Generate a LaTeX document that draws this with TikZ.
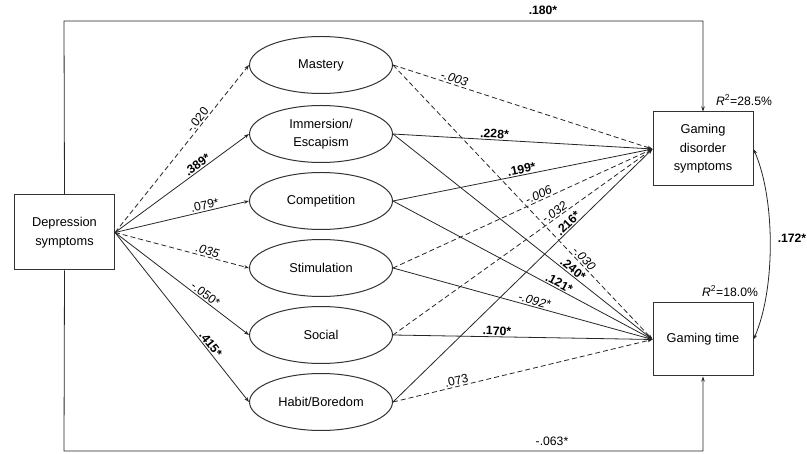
\documentclass[tikz,border=0pt]{standalone}
\usepackage{fontspec}
\setmainfont{Liberation Sans}
\usetikzlibrary{shapes.geometric,arrows.meta}
\begin{document}
\begin{tikzpicture}[x=1pt,y=-1pt,
  font=\fontsize{12.8}{18.5}\selectfont,
  box/.style={draw=black!80,line width=1pt,fill=white,minimum width=100pt,minimum height=74pt,align=center,inner sep=0pt},
  ell/.style={draw=black!80,line width=1pt,ellipse,minimum width=143pt,minimum height=57pt,align=center,inner sep=0pt},
  arr/.style={draw=black!85,line width=0.8pt,-{Stealth[length=5pt,width=3.5pt]}},
  dsh/.style={arr,dash pattern=on 5pt off 3pt},
  lab/.style={sloped,above,inner sep=1.2pt,font=\fontsize{12.2}{14}\selectfont},
  plain/.style={inner sep=0pt,font=\fontsize{12.2}{14}\selectfont},
]
\useasboundingbox (0,0) rectangle (807,454);

% boxes
\node[box,minimum height=75pt] (dep) at (64.5,232.5) {Depression\\symptoms};
\node[box] (gd) at (703,149) {Gaming\\disorder\\symptoms};
\node[box,minimum height=73pt] (gt) at (703,339.5) {Gaming time};

% ellipses
\node[ell] (m)  at (321,65)  {Mastery};
\node[ell] (ie) at (321,134) {Immersion/\\Escapism};
\node[ell] (co) at (321,201) {Competition};
\node[ell] (st) at (321,268) {Stimulation};
\node[ell] (so) at (321,335) {Social};
\node[ell] (hb) at (321,402) {Habit/Boredom};

% corners of the outer paths
\coordinate (tc) at (64,21);
\coordinate (bc) at (64,451);

% depression -> motives
\draw[dsh] (dep.east) -- node[lab,pos=.65]{-.020} (m.west);
\draw[arr] (dep.east) -- node[lab,pos=.64]{\textbf{.389*}} (ie.west);
\draw[arr] (dep.east) -- node[lab,pos=.68]{.079*} (co.west);
\draw[dsh] (dep.east) -- node[lab,pos=.68]{\textit{.035}} (st.west);
\draw[arr] (dep.east) -- node[lab,pos=.65]{-.050*} (so.west);
\draw[arr] (dep.east) -- node[lab,pos=.68]{\textbf{.415*}} (hb.west);

% motives -> gaming disorder symptoms
\draw[dsh] (m.east)  -- node[lab,pos=.23]{\textit{-.003}} (gd.west);
\draw[arr] (ie.east) -- node[lab,pos=.39]{\textbf{.228*}} (gd.west);
\draw[arr] (co.east) -- node[lab,pos=.50]{\textbf{.199*}} (gd.west);
\draw[dsh] (st.east) -- node[lab,pos=.57]{\textit{-.006}} (gd.west);
\draw[dsh] (so.east) -- node[lab,pos=.635]{\textit{-.032}} (gd.west);
\draw[arr] (hb.east) -- node[lab,pos=.69]{\textbf{.216*}} (gd.west);

% motives -> gaming time
\draw[dsh] (m.east)  -- node[lab,pos=.72]{\textit{-.030}} (gt.west);
\draw[arr] (ie.east) -- node[lab,pos=.68]{\textbf{.240*}} (gt.west);
\draw[arr] (co.east) -- node[lab,pos=.63]{\textbf{.121*}} (gt.west);
\draw[arr] (st.east) -- node[lab,pos=.54]{\textit{-.092*}} (gt.west);
\draw[arr] (so.east) -- node[lab,pos=.40]{\textbf{.170*}} (gt.west);
\draw[dsh] (hb.east) -- node[lab,pos=.25]{.073} (gt.west);

% direct paths
\draw[arr] (dep.north) -- (tc) -| (gd.north);
\draw[arr] (dep.south) -- (bc) -| (gt.south);
\node[plain] (l180) at (543,10) {\textbf{.180*}};
\node[plain] (l063) at (552,441) {-.063*};

% covariance
\draw[draw=black!85,line width=0.8pt,{Stealth[length=5pt,width=3.5pt]}-{Stealth[length=5pt,width=3.5pt]}]
  (gd.east) .. controls +(22,50) and +(22,-50) .. (gt.east);
\node[plain] (l172) at (792,238) {\textbf{.172*}};

% R squared
\node[plain] (r1) at (744,100) {\textit{R}\textsuperscript{2}=28.5\%};
\node[plain] (r2) at (730,291) {\textit{R}\textsuperscript{2}=18.0\%};
\end{tikzpicture}
\end{document}
